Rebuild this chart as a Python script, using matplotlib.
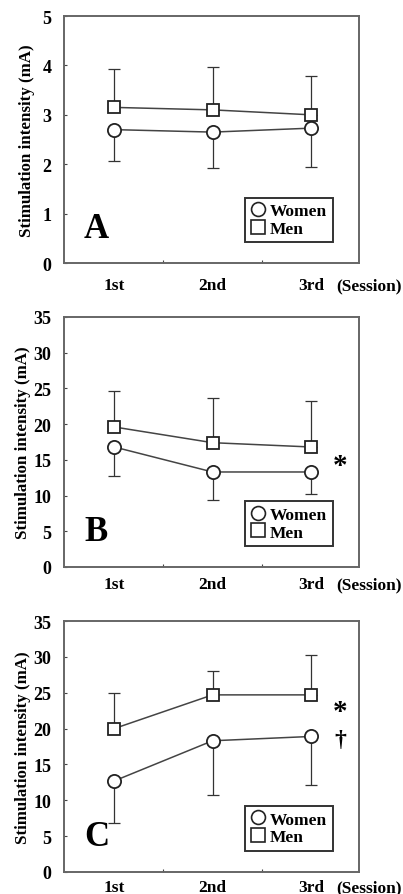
import matplotlib.pyplot as plt
import numpy as np

plt.rcParams['font.family'] = ['Liberation Serif', 'DejaVu Serif']
plt.rcParams['font.weight'] = 'bold'

sessions = [1, 2, 3]
session_labels = ['1st', '2nd', '3rd']
panels = ['A', 'B', 'C']

# panel A
a_women = [2.70, 2.65, 2.73]
a_women_lo = [2.06, 1.92, 1.94]
a_men = [3.15, 3.10, 3.00]
a_men_hi = [3.92, 3.97, 3.78]

# panel B
b_women = [16.8, 13.3, 13.3]
b_women_lo = [12.8, 9.4, 10.2]
b_men = [19.6, 17.4, 16.8]
b_men_hi = [24.7, 23.6, 23.3]

# panel C
c_women = [12.7, 18.3, 18.9]
c_women_lo = [6.8, 10.8, 12.2]
c_men = [20.0, 24.7, 24.7]
c_men_hi = [25.0, 28.0, 30.3]

ymax = [5, 35, 35]
ystep = [1, 5, 5]
marks = [[], [('*', 14.2)], [('*', 22.4), ('†', 18.5)]]

data = [(a_women, a_women_lo, a_men, a_men_hi),
        (b_women, b_women_lo, b_men, b_men_hi),
        (c_women, c_women_lo, c_men, c_men_hi)]

fig = plt.figure(figsize=(4.03, 8.95), dpi=100)
boxes = [[0.159, 0.705, 0.732, 0.276],
         [0.159, 0.3654, 0.732, 0.2793],
         [0.159, 0.0246, 0.732, 0.2804]]
xlab_off = [26, 21, 19]  # baseline px below the axes
ylab_x = [-0.10, -0.113, -0.113]

for i in range(3):
    ax = fig.add_axes(boxes[i])
    w, wlo, m, mhi = data[i]
    x = np.array(sessions)
    w = np.array(w); m = np.array(m)
    ax.errorbar(x, w, yerr=[w - np.array(wlo), np.zeros(3)], fmt='none',
                ecolor='#333333', elinewidth=0.9, capsize=4, capthick=0.9, zorder=1)
    ax.errorbar(x, m, yerr=[np.zeros(3), np.array(mhi) - m], fmt='none',
                ecolor='#333333', elinewidth=0.9, capsize=4, capthick=0.9, zorder=1)
    ax.plot(x, w, '-', color='#444444', lw=1.1, marker='o', ms=9.5,
            mfc='white', mec='#222222', mew=1.3, label='Women', zorder=3)
    ax.plot(x, m, '-', color='#444444', lw=1.1, marker='s', ms=8.5,
            mfc='white', mec='#222222', mew=1.3, label='Men', zorder=3)

    ax.set_xlim(0.49, 3.49)
    ax.set_ylim(0, ymax[i])
    ax.set_yticks(np.arange(0, ymax[i] + 0.1, ystep[i]))
    ax.set_xticks([1.5, 2.5])
    ax.set_xticklabels([])
    ax.tick_params(axis='both', direction='in', length=2.5, width=0.8, color='#444444')
    ax.tick_params(axis='y', labelsize=13, pad=9)
    for lab in ax.get_yticklabels():
        lab.set_fontweight('bold')
    for s in ax.spines.values():
        s.set_color('#666666')
        s.set_linewidth(1.4)

    yl = -xlab_off[i] / (boxes[i][3] * 895) * ymax[i]
    for k, lab in enumerate(session_labels):
        ax.text(sessions[k], yl, lab, ha='center', va='baseline',
                fontsize=12.5, fontweight='bold', clip_on=False)
    ax.text(3.26, yl, '(Session)', ha='left', va='baseline',
            fontsize=12.5, fontweight='bold', clip_on=False)

    ax.set_ylabel('Stimulation intensity (mA)', fontsize=12.2, fontweight='bold')
    ax.yaxis.set_label_coords(ylab_x[i], 0.5)
    ax.text(0.82, 0.14 * ymax[i], panels[i], fontsize=25, fontweight='bold',
            ha='center', va='center')

    for sym, yv in marks[i]:
        ax.text(3.3, yv, sym, fontsize=21 if sym == '*' else 17, fontweight='bold',
                ha='center', va='center')

    leg = ax.legend(loc='lower right', bbox_to_anchor=(0.91, 0.085), frameon=True,
                    fancybox=False, edgecolor='black', fontsize=12.5,
                    handlelength=0.9, handletextpad=0.25, borderpad=0.3,
                    labelspacing=0.1, borderaxespad=0)
    leg.get_frame().set_linewidth(1.4)
    for h in leg.legend_handles:
        h.set_linestyle('none')
        h.set_markersize(10)
        h.set_markeredgewidth(1.2)
    for t in leg.get_texts():
        t.set_fontweight('bold')

fig.savefig('out.png', dpi=100)
